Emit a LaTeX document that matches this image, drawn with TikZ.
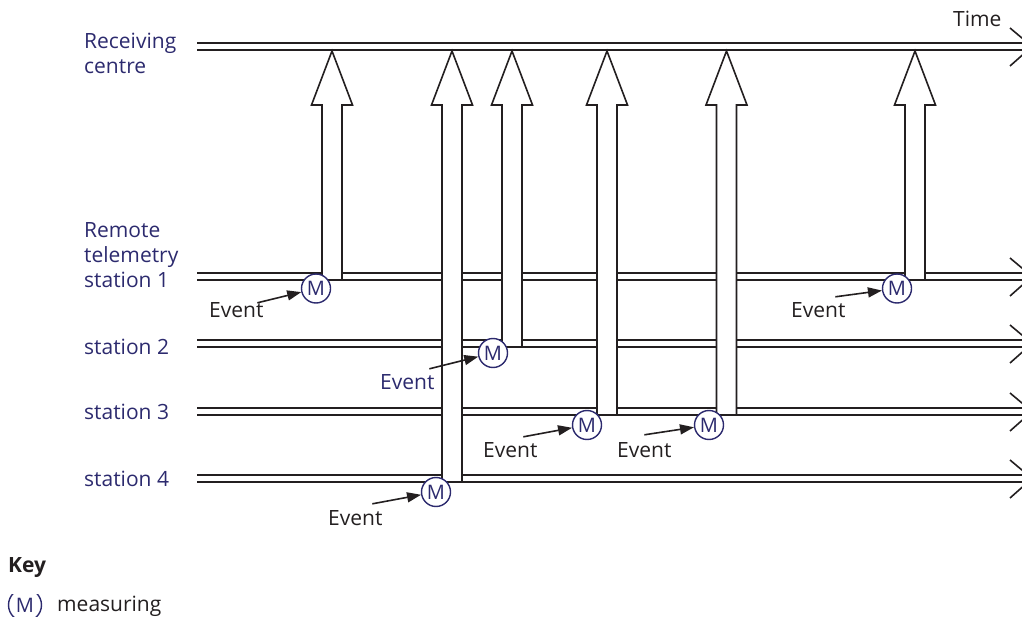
\documentclass[tikz,border=0pt]{standalone}
\usepackage{fontspec}
\setmainfont{Open Sans}
\usetikzlibrary{calc,arrows.meta}
\definecolor{navy}{RGB}{44,42,110}
\definecolor{ink}{RGB}{35,31,32}

\begin{document}
\begin{tikzpicture}[x=1pt,y=-1pt,
    lbl/.style={inner sep=0pt,anchor=base west,text=ink,font=\fontsize{21}{25}\selectfont},
    stn/.style={lbl,text=navy,align=left},
    tline/.style={ink,double,double distance=5.4pt,line width=1.6pt},
    blockarr/.style={ink,fill=white,line width=1.6pt,line join=miter},
    meas/.style={circle,draw=navy,line width=1.4pt,fill=white,text=navy,inner sep=0pt,%
      minimum size=29pt,font=\fontsize{20}{20}\selectfont},
    evarr/.style={ink,line width=1.6pt,-{Triangle[length=14pt,width=10pt]}}]
          \useasboundingbox (0,0) rectangle (1022,617);
          \foreach \y in {46.5,276.5,343.5,411.5,478.5}{
            \draw[tline] (197,\y) -- (1032,\y);
            \draw[ink,line width=1.6pt] (1010,\y-18.5) -- (1032,\y) -- (1010,\y+19.5);
          }
          \foreach \x/\b in {332/280,452/482,512/347,607/415,726.5/415,915/280}
            \draw[blockarr] (\x-10,\b) -- (\x-10,105) -- (\x-20.5,105) -- (\x,51) %
            -- (\x+20.5,105) -- (\x+10,105) -- (\x+10,\b) -- cycle;
          \node[meas] (M1) at (316,288.5) {M};
          \node[meas] (M2) at (493,353) {M};
          \node[meas] (M3) at (587,425) {M};
          \node[meas] (M4) at (709,425) {M};
          \node[meas] (M5) at (436,492) {M};
          \node[meas] (M6) at (897,288.5) {M};
          \node[lbl] (E1) at (209,318) {Event};
          \node[lbl,text=navy] (E2) at (380,389) {Event};
          \node[lbl] (E3) at (483,457) {Event};
          \node[lbl] (E4) at (617,457) {Event};
          \node[lbl] (E5) at (328,525) {Event};
          \node[lbl] (E6) at (791,318) {Event};
          \draw[evarr] ([shift={(21,0)}]E1.north) -- (M1);
          \draw[evarr] ([shift={(22,-5)}]E2.north) -- (M2);
          \draw[evarr] ([shift={(13,-5)}]E3.north) -- (M3);
          \draw[evarr] ([shift={(0,-7)}]E4.north) -- (M4);
          \draw[evarr] ([shift={(17,-6)}]E5.north) -- (M5);
          \draw[evarr] ([shift={(17,-6)}]E6.north) -- (M6);
          \node[stn] (RC) at (84,74) {Receiving\\centre};
          \node[stn] (S1) at (84,288) {Remote\\telemetry\\station 1};
          \node[stn] (S2) at (84,354) {station 2};
          \node[stn] (S3) at (84,419) {station 3};
          \node[stn] (S4) at (84,486) {station 4};
          \node[lbl] (T) at (953,27) {Time};
          \node[lbl,font=\bfseries\fontsize{21}{25}\selectfont] (K) at (8,572) {Key};
          \begin{scope}
            \clip (0,594) rectangle (60,616);
            \node[meas,minimum size=33pt] (KM) at (25,605) {M};
          \end{scope}
          \node[lbl] (KT) at (57,611) {measuring};
        \end{tikzpicture}
\end{document}
